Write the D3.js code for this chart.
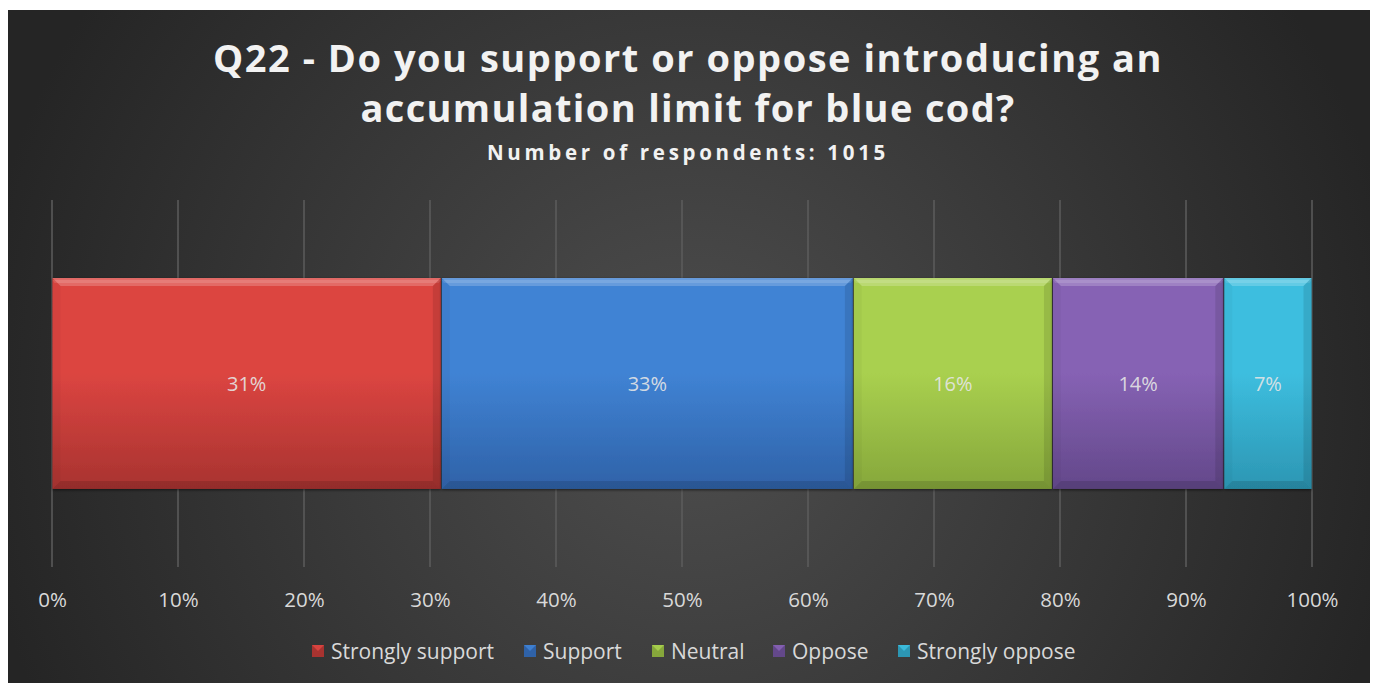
<!DOCTYPE html>
<html><head><meta charset="utf-8">
<script src="https://cdn.jsdelivr.net/npm/d3@7"></script>
<style>
html,body{margin:0;padding:0;background:#fff;}
svg{display:block;}
</style></head>
<body>
<script>
const categories = ["Strongly support","Support","Neutral","Oppose","Strongly oppose"];
const values = [30.9, 32.7, 15.8, 13.6, 7.0];
const labels = ["31%","33%","16%","14%","7%"];
const colorsTop = ["#dc4541","#4083d4","#a9d04f","#8662b4","#3dbedf"];
const colorsBot = ["#a83330","#2f62a8","#86a73b","#63488a","#2c96b3"];
const ticks = [0,10,20,30,40,50,60,70,80,90,100];
const titleLines = ["Q22 - Do you support or oppose introducing an","accumulation limit for blue cod?"];
const subtitle = "Number of respondents: 1015";

const W=1373,H=683;
const svg=d3.select("body").append("svg").attr("width",W).attr("height",H);
const defs=svg.append("defs");
const rg=defs.append("radialGradient").attr("id","bg").attr("gradientUnits","userSpaceOnUse")
  .attr("cx",690).attr("cy",400).attr("r",720);
rg.append("stop").attr("offset","0").attr("stop-color","#4e4e4e");
rg.append("stop").attr("offset","1").attr("stop-color","#252525");
svg.append("rect").attr("x",8).attr("y",10).attr("width",1362).attr("height",673).attr("fill","url(#bg)");

const x=d3.scaleLinear().domain([0,100]).range([52,1312]);
const gy0=200,gy1=567;
svg.append("g").selectAll("line").data(ticks).join("line")
 .attr("x1",d=>x(d)).attr("x2",d=>x(d)).attr("y1",gy0).attr("y2",gy1)
 .attr("stroke","#5c5c5c").attr("stroke-width",1.5);

const axis=d3.axisBottom(x).tickValues(ticks).tickFormat(d=>d+"%").tickSize(0).tickPadding(0);
const ag=svg.append("g").attr("transform","translate(0,607)").call(axis);
ag.select(".domain").remove();
ag.selectAll("text").attr("dy",0).attr("fill","#d9d9d9").attr("font-family","Open Sans").attr("font-size",20.5);

const y=d3.scaleBand().domain(["Q22"]).range([gy0,gy1]).paddingInner(0).paddingOuter(0.37);
const by=y("Q22"), bh=y.bandwidth();
const stack=[];let acc=0;values.forEach((v,i)=>{stack.push([acc,acc+v,i]);acc+=v;});

categories.forEach((c,i)=>{
  const g=defs.append("linearGradient").attr("id","g"+i).attr("x1",0).attr("x2",0).attr("y1",0).attr("y2",1);
  g.append("stop").attr("offset","0").attr("stop-color",colorsTop[i]);
  g.append("stop").attr("offset","0.45").attr("stop-color",colorsTop[i]);
  g.append("stop").attr("offset","1").attr("stop-color",colorsBot[i]);
});
const sh=defs.append("filter").attr("id","sh").attr("x","-5%").attr("y","-10%").attr("width","110%").attr("height","120%");
sh.append("feDropShadow").attr("dx",0).attr("dy",1).attr("stdDeviation",1.5).attr("flood-color","#000").attr("flood-opacity",0.6);

const bars=svg.append("g").selectAll("g").data(stack).join("g");
bars.each(function(d){
  const g=d3.select(this);
  const x0=x(d[0])+0.5, x1=x(d[1])-0.5, y0=by, y1=by+bh, b=8;
  g.append("rect").attr("x",x0).attr("y",y0).attr("width",x1-x0).attr("height",bh)
   .attr("fill","url(#g"+d[2]+")").attr("filter","url(#sh)");
  const poly=(pts,fill,op)=>g.append("polygon").attr("points",pts.map(p=>p.join(",")).join(" ")).attr("fill",fill).attr("opacity",op);
  poly([[x0,y0],[x1,y0],[x1-b,y0+b],[x0+b,y0+b]],"#fff",0.2);
  poly([[x0,y0+2],[x1,y0+2],[x1-2,y0+5],[x0+2,y0+5]],"#fff",0.12);
  poly([[x0,y0],[x0+b,y0+b],[x0+b,y1-b],[x0,y1]],"#000",0.03);
  poly([[x1,y0],[x1-b,y0+b],[x1-b,y1-b],[x1,y1]],"#000",0.1);
  poly([[x0,y1],[x0+b,y1-b],[x1-b,y1-b],[x1,y1]],"#000",0.12);
  g.append("text").attr("x",(x0+x1)/2).attr("y",391).attr("text-anchor","middle")
   .attr("font-family","Open Sans").attr("font-size",20).attr("fill","#e6e6e6").attr("fill-opacity",0.9)
   .text(labels[d[2]]);
});

function fitText(sel,target){
  sel.attr("letter-spacing",0);
  const n=sel.text().length;
  const w=sel.node().getComputedTextLength();
  sel.attr("letter-spacing",(target-w)/n);
}
const t1=svg.append("text").attr("x",688).attr("y",72).attr("text-anchor","middle")
 .attr("font-family","Open Sans").attr("font-weight",700).attr("font-size",38).attr("fill","#f2f2f2").text(titleLines[0]);
fitText(t1,950);
const t2=svg.append("text").attr("x",688).attr("y",122).attr("text-anchor","middle")
 .attr("font-family","Open Sans").attr("font-weight",700).attr("font-size",38).attr("fill","#f2f2f2").text(titleLines[1]);
fitText(t2,655);
const t3=svg.append("text").attr("x",688).attr("y",160).attr("text-anchor","middle")
 .attr("font-family","Open Sans").attr("font-weight",700).attr("font-size",20.5).attr("fill","#f2f2f2").text(subtitle);
fitText(t3,402);

const legX=[312,524,652,773,898];
const lg=svg.append("g").selectAll("g").data(categories).join("g").attr("transform",(d,i)=>`translate(${legX[i]},645)`);
lg.append("rect").attr("width",12).attr("height",12).attr("fill",(d,i)=>colorsBot[i]);
lg.append("polygon").attr("points","0,0 12,0 6,6").attr("fill",(d,i)=>colorsTop[i]).attr("opacity",0.9);
lg.append("text").attr("x",19).attr("y",13.5).attr("font-family","Open Sans").attr("font-size",21).attr("fill","#d9d9d9").text(d=>d);
</script>
</body></html>
